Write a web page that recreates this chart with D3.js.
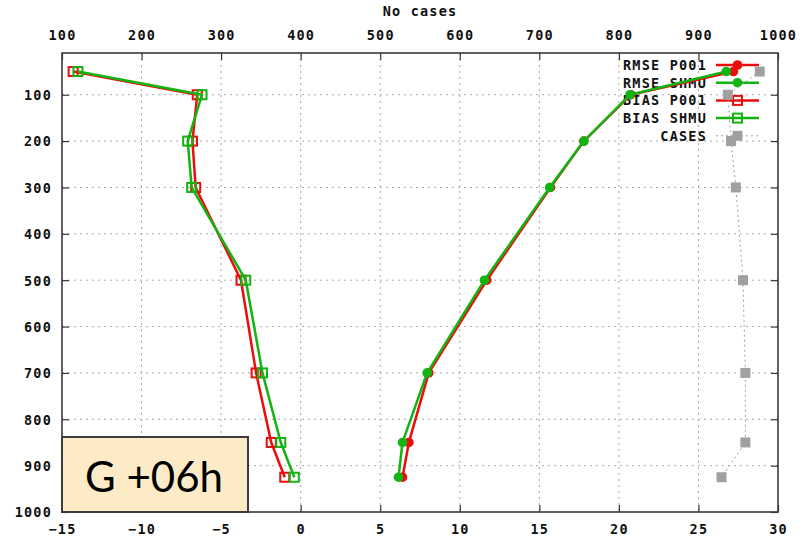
<!DOCTYPE html>
<html>
<head>
<meta charset="utf-8">
<script src="https://cdn.jsdelivr.net/npm/d3@7"></script>
<style>
  html, body { margin: 0; padding: 0; background: #ffffff; }
  svg { display: block; }
  .mono { font-family: "DejaVu Sans Mono", "Liberation Mono", monospace; font-weight: bold; font-size: 13.5px; letter-spacing: 1.2px; fill: #111; }
</style>
</head>
<body>
<svg id="chart" width="811" height="541"></svg>
<script>
// ---- data ----
const levels   = [50, 100, 200, 300, 500, 700, 850, 925];
const rmseP001 = [27.2, 20.75, 17.8, 15.7, 11.7, 8.05, 6.8, 6.4];
const rmseSHMU = [26.75, 20.7, 17.8, 15.65, 11.55, 7.95, 6.4, 6.15];
const biasP001 = [-14.3, -6.5, -6.8, -6.6, -3.75, -2.8, -1.85, -1.0];
const biasSHMU = [-14.0, -6.2, -7.1, -6.85, -3.45, -2.4, -1.25, -0.4];
const cases    = [977, 937, 941, 947, 956, 959, 959, 929];

const xTicks   = [-15, -10, -5, 0, 5, 10, 15, 20, 25, 30];
const x2Ticks  = [100, 200, 300, 400, 500, 600, 700, 800, 900, 1000];
const yTicks   = [100, 200, 300, 400, 500, 600, 700, 800, 900, 1000];
const legendLabels = ["RMSE P001", "RMSE SHMU", "BIAS P001", "BIAS SHMU", "CASES"];
const topTitle = "No cases";
const boxLabel = "G +06h";

// ---- layout ----
const L = 62, R = 778, T = 53, B = 512;
const RED = "#ec0c0c", GREEN = "#12b412", GRAY = "#a0a0a0";

const svg = d3.select("#chart");
const x  = d3.scaleLinear().domain([-15, 30]).range([L, R]);
const x2 = d3.scaleLinear().domain([100, 1000]).range([L, R]);
const y  = d3.scaleLinear().domain([10, 1000]).range([T, B]);

// grid
const grid = svg.append("g").attr("stroke", "#a8a8a8").attr("stroke-width", 1).attr("stroke-dasharray", "2,4");
grid.selectAll("line.v").data(xTicks.slice(1, -1)).join("line")
  .attr("x1", d => x(d)).attr("x2", d => x(d)).attr("y1", T).attr("y2", B);
grid.selectAll("line.h").data(yTicks.slice(0, -1)).join("line")
  .attr("x1", L).attr("x2", R).attr("y1", d => y(d)).attr("y2", d => y(d));

// axes
function styleAxis(g) {
  g.select(".domain").remove();
  g.selectAll(".tick line").attr("stroke", "#333").attr("stroke-width", 1.2);
  g.selectAll(".tick text").attr("class", "mono").attr("fill", "#111");
}
svg.append("g").attr("transform", `translate(${L},0)`)
  .call(d3.axisLeft(y).tickValues(yTicks).tickSize(-7).tickPadding(10).tickFormat(d3.format("d")))
  .call(styleAxis)
  .call(g => g.selectAll(".tick text").attr("text-anchor", "end").attr("dy", "0.36em"));
svg.append("g").attr("transform", `translate(${R},0)`)
  .call(d3.axisRight(y).tickValues(yTicks).tickSize(-7).tickFormat(""))
  .call(styleAxis);
svg.append("g").attr("transform", `translate(0,${B})`)
  .call(d3.axisBottom(x).tickValues(xTicks).tickSize(-7).tickPadding(12).tickFormat(d3.format("d")))
  .call(styleAxis);
svg.append("g").attr("transform", `translate(0,${T})`)
  .call(d3.axisTop(x2).tickValues(x2Ticks).tickSize(-7).tickPadding(13).tickFormat(d3.format("d")))
  .call(styleAxis);

svg.append("text").attr("class", "mono").attr("x", (L + R) / 2).attr("y", 16)
  .attr("text-anchor", "middle").text(topTitle);

// legend (drawn before data so lines pass over it)
const legX = 707, legY0 = 65, legDy = 17.7, sx1 = 716, sx2 = 759, smx = 737.5;
const legend = svg.append("g");
legendLabels.forEach((lab, i) => {
  const yy = legY0 + i * legDy;
  legend.append("text").attr("class", "mono").attr("x", legX).attr("y", yy + 4.8)
    .attr("text-anchor", "end").text(lab);
});

function legendSample(i, color, kind, dashed) {
  const yy = legY0 + i * legDy;
  svg.append("line").attr("x1", sx1).attr("x2", sx2).attr("y1", yy).attr("y2", yy)
    .attr("stroke", color).attr("stroke-width", dashed ? 1 : 2.5)
    .attr("stroke-dasharray", dashed ? "2,3" : null);
  drawMarker(svg, smx, yy, color, kind);
}
function drawMarker(g, cx, cy, color, kind) {
  if (kind === "circle") {
    g.append("circle").attr("cx", cx).attr("cy", cy).attr("r", 4.8).attr("fill", color);
  } else if (kind === "open") {
    g.append("rect").attr("x", cx - 4.5).attr("y", cy - 4.5).attr("width", 9).attr("height", 9)
      .attr("fill", "none").attr("stroke", color).attr("stroke-width", 2);
  } else {
    g.append("rect").attr("x", cx - 5).attr("y", cy - 5).attr("width", 10).attr("height", 10)
      .attr("fill", color);
  }
}
function series(vals, scale, color, kind, dashed, legIdx) {
  legendSample(legIdx, color, kind, dashed);
  const pts = levels.map((lv, i) => [scale(vals[i]), y(lv)]);
  const g = svg.append("g");
  g.append("path").attr("d", d3.line()(pts)).attr("fill", "none")
    .attr("stroke", color).attr("stroke-width", dashed ? 1 : 2.5)
    .attr("stroke-dasharray", dashed ? "2,3" : null).attr("stroke-linejoin", "round");
  pts.forEach(p => drawMarker(g, p[0], p[1], color, kind));
}
series(rmseP001, x, RED, "circle", false, 0);
series(rmseSHMU, x, GREEN, "circle", false, 1);
series(biasP001, x, RED, "open", false, 2);
series(biasSHMU, x, GREEN, "open", false, 3);
series(cases, x2, GRAY, "filled", true, 4);

// border
svg.append("rect").attr("x", L).attr("y", T).attr("width", R - L).attr("height", B - T)
  .attr("fill", "none").attr("stroke", "#3a3a3a").attr("stroke-width", 1.6);

// label box
svg.append("rect").attr("x", L).attr("y", 437).attr("width", 186).attr("height", B - 437)
  .attr("fill", "#fdebc7").attr("stroke", "#3c3c3c").attr("stroke-width", 2);
svg.append("text").attr("x", 85).attr("y", 492)
  .attr("font-family", "Lato, 'Open Sans', sans-serif").attr("font-size", 42).attr("fill", "#000")
  .text(boxLabel);
</script>
</body>
</html>
